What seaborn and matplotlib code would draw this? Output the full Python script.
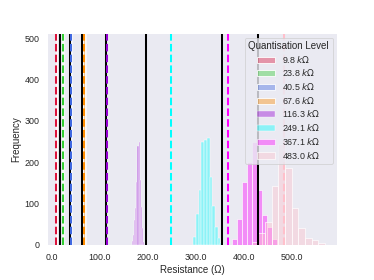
import numpy as np
import pandas as pd
import matplotlib
matplotlib.use("Agg")
import matplotlib.pyplot as plt
import seaborn as sns
from matplotlib.ticker import FormatStrFormatter

# quantisation levels (kOhm) and their colours
levels = [9.8, 23.8, 40.5, 67.6, 116.3, 249.1, 367.1, 483.0]
colors = ['crimson', 'limegreen', 'royalblue', 'darkorange',
          'darkviolet', 'cyan', 'magenta', 'pink']

# decision thresholds between levels
thresholds = [17.5, 39.0, 64.0, 112.5, 196.5, 354.5, 428.5]

# histogram bins per level: first edge, bin width, counts
bin_start = [8.6, 21.8, 36.0, 62.0, 166.5, 295.0, 375.9, 416.3]
bin_width = [1.2, 1.5, 2.2, 3.3, 2.4, 5.6, 10.4, 13.86]
counts = [
    [900, 1500, 800],
    [800, 1400, 900],
    [600, 1300, 1100],
    [700, 1200, 900],
    [10, 24, 60, 89, 153, 239, 250, 157, 92, 41, 8],
    [20, 75, 133, 250, 254, 258, 165, 93, 44, 17, 5],
    [14, 62, 153, 201, 250, 133, 72, 44, 14],
    [8, 28, 55, 143, 243, 187, 89, 41, 17, 12, 5],
]

sns.set_theme(style="dark")
plt.rcParams['font.family'] = ['Liberation Sans', 'DejaVu Sans']

fig, ax = plt.subplots(figsize=(6.4, 280 / 58.4375), dpi=58.4375)
fig.subplots_adjust(left=0.1257, right=0.901, top=0.882, bottom=0.125)

for lvl, c, s, w, cnt in zip(levels, colors, bin_start, bin_width, counts):
    edges = [s + w * i for i in range(len(cnt) + 1)]
    df = pd.DataFrame({'r': [e + w / 2 for e in edges[:-1]], 'n': cnt})
    sns.histplot(data=df, x='r', weights='n', bins=edges, color=c,
                 alpha=0.4, label=f'{lvl:.1f} $k\\Omega$', ax=ax)

for t in thresholds:
    ax.axvline(t, color='black', lw=2.5)
for lvl, c in zip(levels, colors):
    ax.axvline(lvl, color=c, lw=2.5, ls='--')

ax.set_xlim(-9.4, 593.6)
ax.set_ylim(0, 512)
ax.xaxis.set_major_formatter(FormatStrFormatter('%.1f'))
ax.set_xlabel('Resistance (Ω)')
ax.set_ylabel('Frequency')
ax.legend(title='Quantisation Level', loc='upper right', labelspacing=0.3)

fig.savefig('out.png', dpi=58.4375)
